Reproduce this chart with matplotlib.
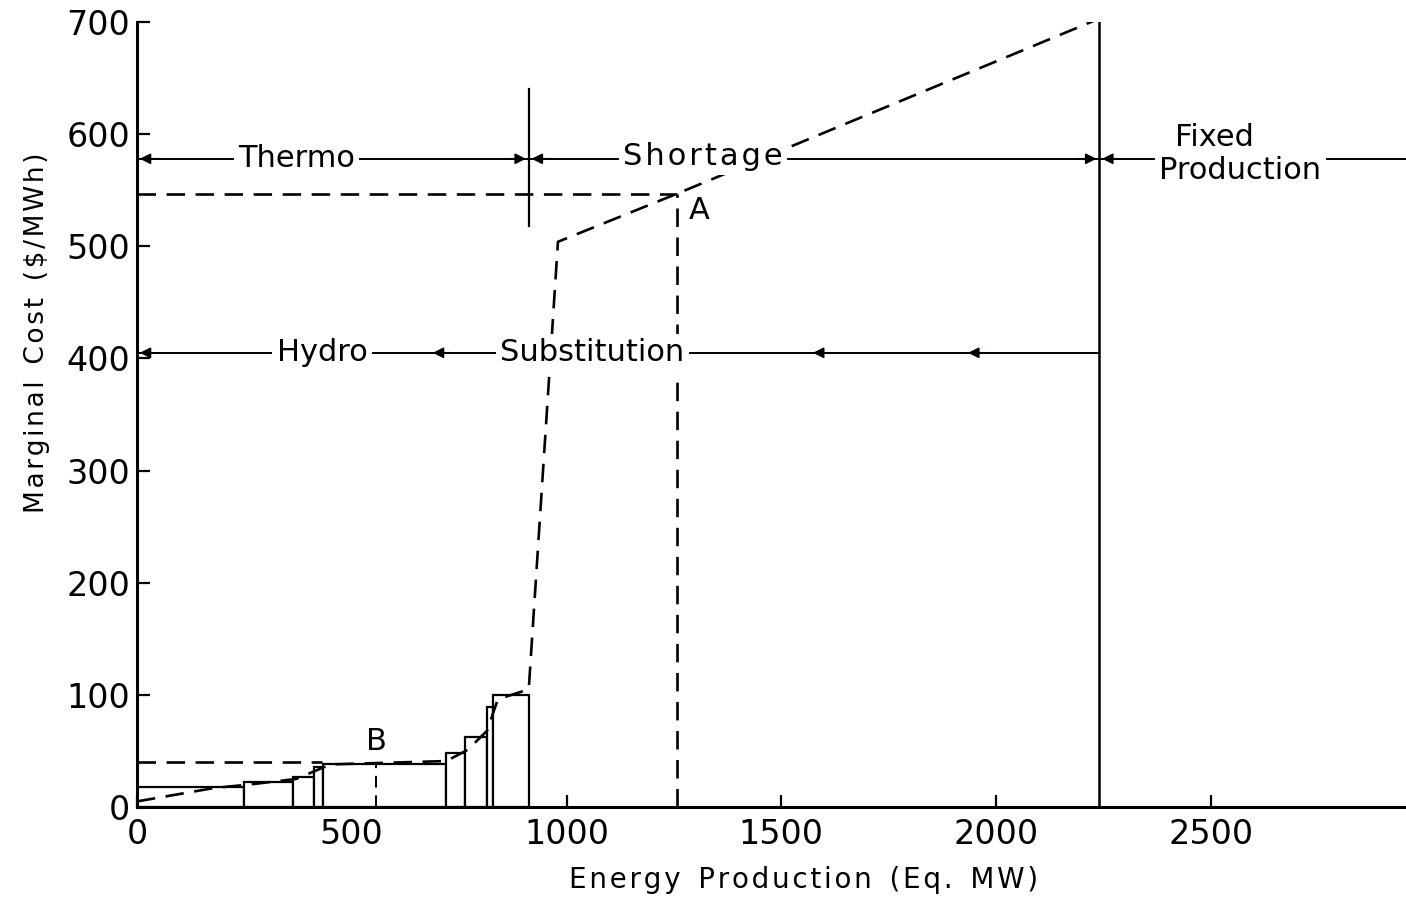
import numpy as np
import matplotlib
matplotlib.use("Agg")
import matplotlib.pyplot as plt

# step blocks (hydro/thermo units)
bar_edges = [0, 250, 364, 411, 434, 719, 763, 814, 829, 912]
bar_heights = [18, 22, 27, 36, 38, 48, 62, 89, 100]

# dashed marginal cost curve
curve_x = [0, 180, 260, 370, 420, 450, 720, 770, 815, 840, 912, 980, 1258, 2240]
curve_y = [5, 17, 20, 25, 33, 38, 41, 51, 68, 96, 105, 504, 547, 703]

point_a = (1258, 547)
point_b = (557, 38)
b_level = 40
thermo_end = 912
fixed_start = 2240
row_top = 578
row_hydro = 405
hydro_arrows = [0, 682, 1567, 1928]

x_ticks = [0, 500, 1000, 1500, 2000, 2500]
y_ticks = [0, 100, 200, 300, 400, 500, 600, 700]


def spaced(s):
    # letter-spaced lettering like the original drafting template
    return '\u200a'.join(s)


plt.rcParams['font.family'] = ['DejaVu Sans']
fig = plt.figure(figsize=(14.06, 9), dpi=100)
ax = fig.add_axes([0.0974, 0.1033, 0.9026, 0.8723])
ax.set_xlim(0, 2954)
ax.set_ylim(0, 700)

lw = 1.9
widths = np.diff(bar_edges)
ax.bar(bar_edges[:-1], bar_heights, width=widths, align='edge',
       facecolor='white', edgecolor='black', linewidth=1.6, zorder=2)

ax.plot(curve_x, curve_y, color='black', lw=lw, dashes=(7, 4), zorder=3)

# dashed guides
ax.plot([0, point_a[0]], [point_a[1], point_a[1]], color='black', lw=lw, dashes=(7, 4))
ax.plot([point_a[0], point_a[0]], [0, point_a[1]], color='black', lw=lw, dashes=(7, 4))
ax.plot([0, 430], [b_level, b_level], color='black', lw=lw, dashes=(7, 4), zorder=3)
ax.plot([point_b[0], point_b[0]], [0, point_b[1]], color='black', lw=1.4, dashes=(6, 4), zorder=3)

# solid verticals
ax.plot([thermo_end, thermo_end], [518, 640], color='black', lw=1.6)
ax.plot([fixed_start, fixed_start], [0, 705], color='black', lw=1.8)

# region rows
ax.plot([0, 2954], [row_top, row_top], color='black', lw=1.4, zorder=1)
ax.plot([0, fixed_start], [row_hydro, row_hydro], color='black', lw=1.4, zorder=1)

ap = dict(arrowstyle='-|>', color='black', lw=1.2, mutation_scale=16)
for xa, xb in [(60, 0), (thermo_end - 60, thermo_end), (thermo_end + 60, thermo_end),
               (fixed_start - 60, fixed_start), (fixed_start + 60, fixed_start)]:
    ax.annotate('', xy=(xb, row_top), xytext=(xa, row_top), arrowprops=ap)
for xh in hydro_arrows:
    ax.annotate('', xy=(xh, row_hydro), xytext=(xh + 60, row_hydro), arrowprops=ap)

box = dict(facecolor='white', edgecolor='none', pad=3)
tk = dict(fontsize=22, ha='center', va='center', zorder=4, bbox=box)
ax.text(372, row_top, 'Thermo', **tk)
ax.text(1318, row_top + 2, spaced('Shortage'), **tk)
ax.text(2507, row_top + 19, 'Fixed', fontsize=22, ha='center', va='center', zorder=4)
ax.text(2568, row_top - 10, 'Production', **tk)
ax.text(431, row_hydro, 'Hydro', **tk)
ax.text(1060, row_hydro, 'Substitution', **tk)
ax.text(point_a[0] + 50, point_a[1] - 15, 'A', fontsize=22, ha='center', va='center')
ax.text(point_b[0], 58, 'B', fontsize=22, ha='center', va='center')

for s in ['top', 'right']:
    ax.spines[s].set_visible(False)
for s in ['left', 'bottom']:
    ax.spines[s].set_linewidth(2.2)
ax.set_xticks(x_ticks)
ax.set_yticks(y_ticks)
ax.tick_params(direction='in', length=9, width=1.6, labelsize=24, pad=5)
ax.tick_params(axis='x', pad=8)
ax.set_xlabel('  '.join(spaced(w) for w in ['Energy', 'Production', '(Eq.', 'MW)']), fontsize=20)
ax.set_ylabel('  '.join(spaced(w) for w in ['Marginal', 'Cost', '($/MWh)']), fontsize=19)
ax.xaxis.set_label_coords(0.525, -0.075)
ax.yaxis.set_label_coords(-0.0686, 0.604)

fig.savefig('out.png', dpi=100, facecolor='white')
